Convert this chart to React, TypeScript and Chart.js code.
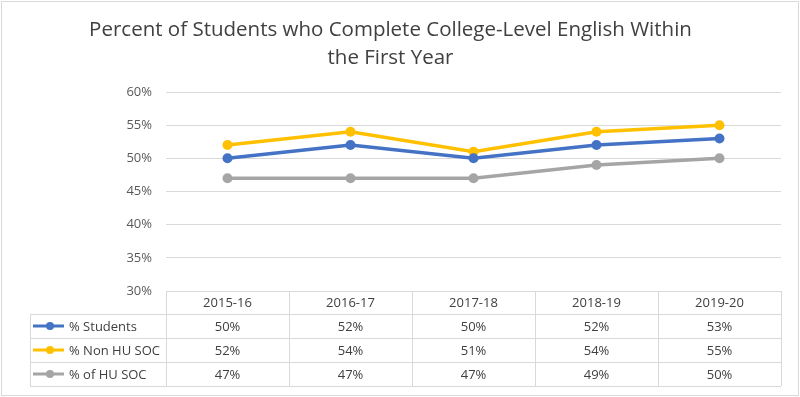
import React, { useEffect, useRef } from "react";
import { Chart, registerables } from "chart.js";

Chart.register(...registerables);

const categories = ["2015-16", "2016-17", "2017-18", "2018-19", "2019-20"];
const studentsValues = [0.5, 0.52, 0.5, 0.52, 0.53];
const nonHuSocValues = [0.52, 0.54, 0.51, 0.54, 0.55];
const huSocValues = [0.47, 0.47, 0.47, 0.49, 0.5];
const seriesNames = ["% Students", "% Non HU SOC", "% of HU SOC"];
const seriesColors = ["#4472C4", "#FFC000", "#A5A5A5"];
const titleLines = [
  "Percent of Students who Complete College-Level English Within",
  "the First Year",
];

const FONT = "'Open Sans', 'Noto Sans', sans-serif";
const TEXT = "#404040";
const GRID = "#d9d9d9";

const pct = (v: number) => `${Math.round(v * 100)}%`;

const tablePlugin = {
  id: "dataTable",
  afterDraw(chart: any) {
    const ctx: CanvasRenderingContext2D = chart.ctx;
    const x = chart.scales.x;
    const area = chart.chartArea;
    const top = area.bottom;
    const headerH = 23;
    const rowH = 24;
    const left = 30;
    const right = area.right;
    const n = categories.length;
    const step = (area.right - area.left) / n;
    const bottom = top + headerH + rowH * 3;

    ctx.save();
    ctx.strokeStyle = GRID;
    ctx.lineWidth = 1;
    // outer border
    ctx.strokeRect(1.5, 1.5, chart.width - 3, chart.height - 3);

    // vertical lines
    for (let i = 0; i <= n; i++) {
      const vx = Math.round(area.left + step * i) + 0.5;
      ctx.beginPath();
      ctx.moveTo(vx, top);
      ctx.lineTo(vx, bottom);
      ctx.stroke();
    }
    ctx.beginPath();
    ctx.moveTo(left + 0.5, top + headerH);
    ctx.lineTo(left + 0.5, bottom);
    ctx.stroke();
    // horizontal lines
    for (let r = 0; r <= 3; r++) {
      const hy = Math.round(top + headerH + rowH * r) + 0.5;
      ctx.beginPath();
      ctx.moveTo(left, hy);
      ctx.lineTo(right, hy);
      ctx.stroke();
    }

    ctx.fillStyle = TEXT;
    ctx.font = `13px ${FONT}`;
    ctx.textAlign = "center";
    ctx.textBaseline = "middle";
    categories.forEach((c, i) => {
      const cx = x.getPixelForValue(i);
      ctx.fillText(c, cx, top + headerH / 2 + 1);
    });

    const all = [studentsValues, nonHuSocValues, huSocValues];
    all.forEach((vals, r) => {
      const cy = top + headerH + rowH * r + rowH / 2 + 1;
      vals.forEach((v, i) => {
        ctx.textAlign = "center";
        ctx.fillStyle = TEXT;
        ctx.fillText(pct(v), x.getPixelForValue(i), cy);
      });
      // legend key
      ctx.strokeStyle = seriesColors[r];
      ctx.lineWidth = 3;
      ctx.beginPath();
      ctx.moveTo(33, cy - 1);
      ctx.lineTo(64, cy - 1);
      ctx.stroke();
      ctx.fillStyle = seriesColors[r];
      ctx.beginPath();
      ctx.arc(50, cy - 1, 4, 0, Math.PI * 2);
      ctx.fill();
      ctx.fillStyle = TEXT;
      ctx.textAlign = "left";
      ctx.fillText(seriesNames[r], 69, cy);
    });
    ctx.restore();
  },
};

export default function App() {
  const ref = useRef<HTMLCanvasElement>(null);
  useEffect(() => {
    document.body.style.margin = "0";
    const chart = new Chart(ref.current!, {
      type: "line",
      data: {
        labels: categories,
        datasets: [
          { label: seriesNames[0], data: studentsValues },
          { label: seriesNames[1], data: nonHuSocValues },
          { label: seriesNames[2], data: huSocValues },
        ].map((d, i) => ({
          ...d,
          borderColor: seriesColors[i],
          backgroundColor: seriesColors[i],
          borderWidth: 3.5,
          pointRadius: 5,
          pointHoverRadius: 5,
          pointBorderWidth: 0,
          tension: 0,
        })),
      },
      options: {
        animation: false,
        responsive: true,
        maintainAspectRatio: false,
        layout: { padding: { left: 0, right: 19, top: 16, bottom: 106 } },
        plugins: {
          legend: { display: false },
          tooltip: { enabled: false },
          title: {
            display: true,
            text: titleLines,
            color: "#404040",
            font: { family: FONT, size: 20.5, weight: "normal", lineHeight: 1.366 },
            padding: { top: 0, bottom: 20 },
          },
        },
        scales: {
          x: {
            type: "category",
            offset: true,
            display: false,
            grid: { display: false },
          },
          y: {
            min: 0.3,
            max: 0.6,
            border: { display: false },
            grid: { color: GRID, drawTicks: false, lineWidth: 1 },
            ticks: {
              stepSize: 0.05,
              padding: 14,
              color: "#595959",
              font: { family: FONT, size: 13 },
              callback: (v: any) => pct(Number(v)),
            },
            afterFit: (s: any) => {
              s.width = 166;
            },
          },
        },
      },
      plugins: [tablePlugin],
    });
    return () => chart.destroy();
  }, []);
  return (
    <div style={{ width: 800, height: 397, position: "relative", background: "#fff" }}>
      <canvas ref={ref} />
    </div>
  );
}
